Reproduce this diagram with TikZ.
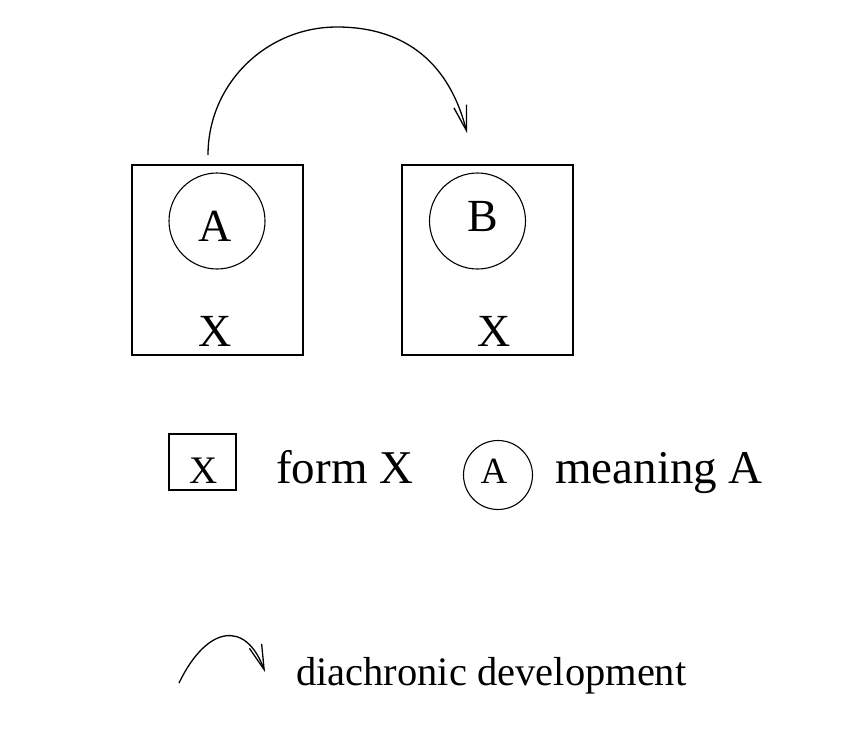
\documentclass[tikz,border=0pt]{standalone}
\usepackage{fontspec}
\setmainfont{Liberation Serif}
\usetikzlibrary{arrows.meta}
\tikzset{
  formbox/.style={draw,line width=2pt,minimum width=171pt,minimum height=190pt,inner sep=0pt},
  meanc/.style={draw,circle,line width=1.1pt,minimum size=96pt,inner sep=0pt},
  lbl/.style={anchor=base,inner sep=0pt,font=\fontsize{46}{50}\selectfont},
  txt/.style={anchor=base west,inner sep=0pt,font=\fontsize{47}{52}\selectfont},
  ar/.style={-{Straight Barb[length=25pt,width=13pt]},line width=1.3pt},
}
\begin{document}
\begin{tikzpicture}[x=1pt,y=-1pt]
\useasboundingbox (0,0) rectangle (842,732);
% the two forms with their meanings
\node[formbox] (f1) at (217.5,259.5) {};
\node[formbox] (f2) at (487.5,259.5) {};
\node[meanc] (mA) at (217,221) {};
\node[meanc] (mB) at (477.5,221) {};
\node[lbl] (tA) at (215,241) {A};
\node[lbl] (tB) at (483,231) {B};
\node[lbl] (x1) at (215.5,346) {X};
\node[lbl] (x2) at (494.5,346) {X};
\coordinate (s) at (208,155);
\coordinate (e) at (467,133);
\draw[ar] (s) .. controls (208,84) and (266,27) .. (337,27)
  .. controls (408,27) and (450,66) .. (e);
% legend
\node[draw,line width=2pt,minimum width=67pt,minimum height=56pt,inner sep=0pt] (lf) at (202.5,462) {};
\node[lbl,font=\fontsize{39}{44}\selectfont] (lx) at (203.5,483) {X};
\node[txt] (lft) at (276,483) {form X};
\node[draw,circle,line width=1.1pt,minimum size=69pt,inner sep=0pt] (lm) at (498,475) {};
\node[lbl,font=\fontsize{37}{42}\selectfont] (la) at (494,483) {A};
\node[txt] (lmt) at (555,483) {meaning A};
\coordinate (d1) at (179,683);
\coordinate (d2) at (265,672);
\draw[ar] (d1) .. controls (207,625) and (246,620) .. (d2);
\node[txt,font=\fontsize{40.5}{45}\selectfont] (ld) at (296,685) {diachronic development};
\end{tikzpicture}
\end{document}
